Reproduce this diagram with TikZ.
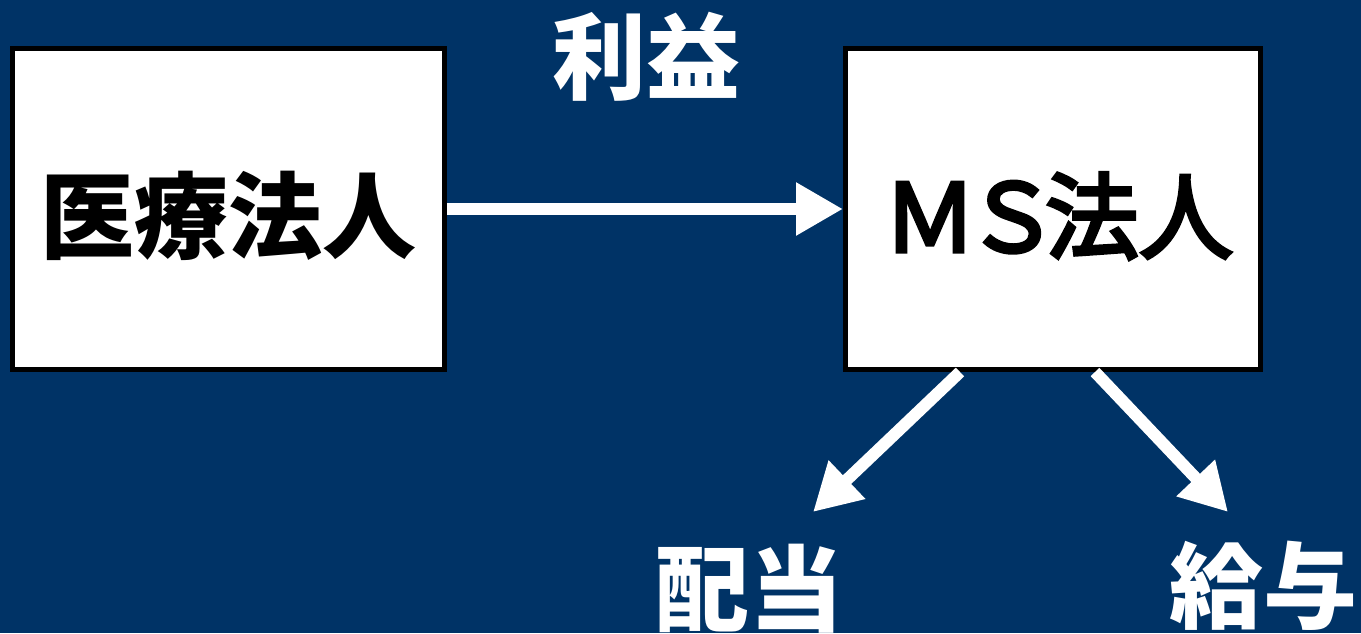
\documentclass[tikz,border=0pt]{standalone}
\usepackage{fontspec}
\newfontfamily\cjk{Noto Sans CJK JP}
\newfontfamily\cjkmed{Noto Sans CJK JP}[FakeBold=4]
\usetikzlibrary{arrows.meta}
\definecolor{bgblue}{RGB}{0,51,102}
\tikzset{
  box/.style={draw=black, line width=5pt, fill=white, minimum width=415pt, minimum height=321pt, inner sep=0pt, font=\cjk\bfseries\fontsize{94}{94}\selectfont, text=black},
  medtext/.style={font=\cjkmed\fontsize{94}{94}\selectfont},
  lbl/.style={font=\cjk\bfseries\fontsize{94}{94}\selectfont, text=white, inner sep=0pt},
  arr/.style={draw=white, line width=12pt, -{Triangle[length=47pt,width=50pt]}}
}
\begin{document}
\begin{tikzpicture}[x=1pt,y=-1pt]
\useasboundingbox (0,0) rectangle (1361,633);
\fill[bgblue] (0,0) rectangle (1361,633);
\node[box, minimum width=432pt] (b1) at (228.5,209) {\raisebox{-7pt}[\height][\depth]{医療法人}};
\node[box, medtext] (b2) at (1053,209) {\raisebox{-7pt}[\height][\depth]{\hspace{10pt}Ｍ\kern-12ptＳ\kern-14pt法人}};
\node[lbl] (l1) at (646,57) {利益};
\node[lbl] (l2) at (749,589) {配当};
\node[lbl] (l3) at (1263,586) {給与};
\coordinate (t1) at (813,512);
\coordinate (t2) at (1228,512);
\draw[arr] (b1.east) -- (b2.west);
\draw[arr] ([xshift=-93pt]b2.south) -- (t1);
\draw[arr] ([xshift=42pt]b2.south) -- (t2);
\end{tikzpicture}
\end{document}
